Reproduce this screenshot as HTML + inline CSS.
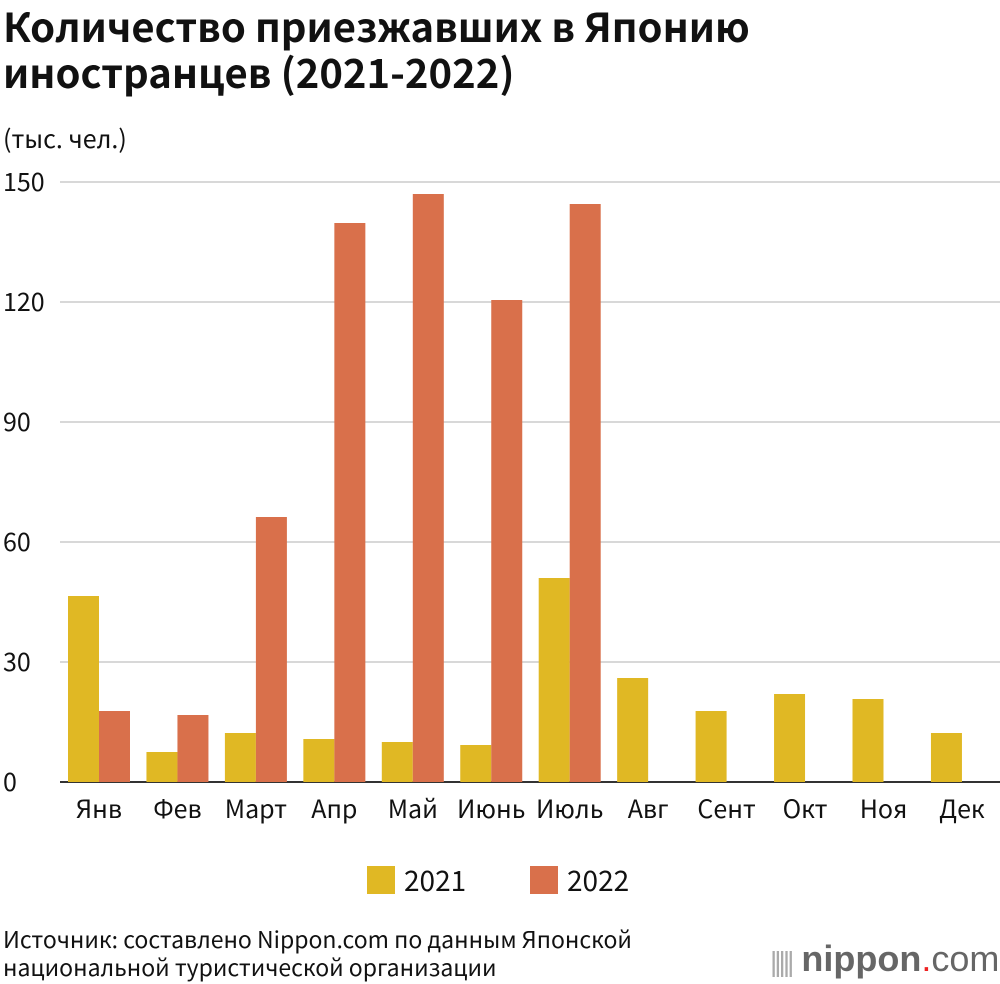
<!DOCTYPE html>
<html><head><meta charset="utf-8"><style>
body{margin:0;width:1000px;height:984px;background:#fff;font-family:"Noto Sans CJK JP","Liberation Sans",sans-serif;overflow:hidden;position:relative}
.t{position:absolute;color:#111}
svg text{font-family:"Noto Sans CJK JP","Liberation Sans",sans-serif}
</style></head><body>
<div class="t" style="left:3px;top:2px;font-size:40px;font-weight:bold;line-height:46px">Количество приезжавших в Японию<br>иностранцев (2021-2022)</div>
<div class="t" style="left:3px;top:121px;font-size:25px;line-height:34px">(тыс. чел.)</div>
<svg id="c" width="1000" height="900" style="position:absolute;left:0;top:0"></svg>
<div class="t" style="left:3px;top:924px;font-size:23px;line-height:28px">Источник: составлено Nippon.com по данным Японской<br>национальной туристической организации</div>
<div style="position:absolute;left:770px;top:938px;font-size:36px;color:#666;font-family:'Liberation Sans',sans-serif"><span style="color:#aaa;font-size:28px;letter-spacing:-3px">|||||</span> <b>nippon</b><span style="color:#e22">.</span>com</div>
<script>
const categories=["Янв","Фев","Март","Апр","Май","Июнь","Июль","Авг","Сент","Окт","Ноя","Дек"];
const values2021=[46.5,7.5,12.25,10.75,10,9.25,51,26,17.75,22,20.75,12.25];
const values2022=[17.75,16.75,66.25,139.75,147,120.5,144.5,null,null,null,null,null];
const ticks=[0,30,60,90,120,150];
const NS="http://www.w3.org/2000/svg",svg=document.getElementById('c');
const y=v=>782-v*4, cx=i=>99+78.45*i;
function mk(t,a,txt){const e=document.createElementNS(NS,t);for(const k in a)e.setAttribute(k,a[k]);if(txt!=null)e.textContent=txt;svg.appendChild(e);return e;}
ticks.forEach(t=>{
 const l=mk('line',{x1:60,x2:1000,y1:y(t),y2:y(t),stroke:t?'#ccc':'#333','stroke-width':t?1.5:2});
 
 
 const tx=mk('text',{x:3,y:y(t)+9,'font-size':25,fill:'#111'},t);
 
 
});
categories.forEach((c,i)=>{
 const a=values2021[i],b=values2022[i];
 const r1=mk('rect',{x:cx(i)-31,y:y(a),width:31,height:a*4,fill:'#e0b824'});
 
 
 if(b!=null){const r2=mk('rect',{x:cx(i),y:y(b),width:31,height:b*4,fill:'#d9704b'});
 
 }
 const tl=mk('text',{x:cx(i),y:818,'font-size':25,fill:'#111','text-anchor':'middle'},c);
 
 
});
[[367,'#e0b824','2021'],[530,'#d9704b','2022']].forEach(([x,col,l])=>{
 const r=mk('rect',{x:x,y:866,width:28,height:28,fill:col});
 
 
 const t=mk('text',{x:x+37,y:891,'font-size':28,fill:'#111'},l);
 
 
});
</script>
</body></html>
